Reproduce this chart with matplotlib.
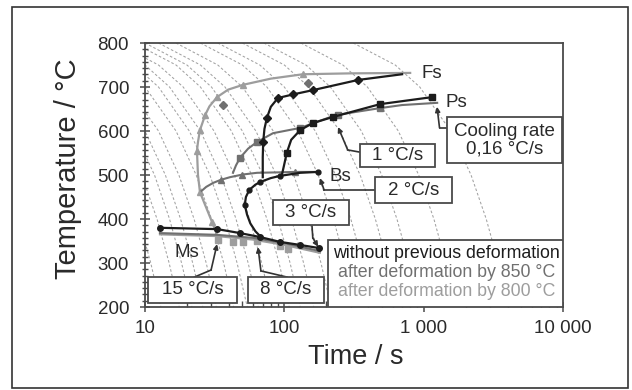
import matplotlib
matplotlib.use("Agg")
import matplotlib.pyplot as plt
from matplotlib.patches import Rectangle
from matplotlib.ticker import FixedLocator, NullFormatter, AutoMinorLocator

plt.rcParams['font.family'] = ['Liberation Sans', 'DejaVu Sans']

# -------------------- data --------------------
# dashed cooling curves: time (s) at which each curve passes these temperatures
dash_temps = [800, 750, 700, 600, 500, 400, 300, 200]
dash_times = [
    [1.0, 2.0, 3.0, 5.0, 7.0, 9.0, 11.0, 13.0],
    [1.35, 2.7, 4.05, 6.76, 9.46, 12.2, 14.9, 17.6],
    [1.67, 3.33, 5.0, 8.33, 11.7, 15.0, 18.3, 21.7],
    [2.0, 4.0, 6.0, 10.0, 14.0, 18.0, 22.0, 26.0],
    [2.5, 5.0, 7.5, 12.5, 17.5, 22.5, 27.5, 32.5],
    [3.33, 6.67, 10.0, 16.7, 23.3, 30.0, 36.7, 43.3],
    [4.17, 8.33, 12.5, 20.8, 29.2, 37.5, 45.8, 54.2],
    [5.0, 10.0, 15.0, 25.0, 35.0, 45.0, 55.0, 65.0],
    [6.25, 12.5, 18.8, 31.3, 43.8, 56.3, 68.8, 81.3],
    [8.33, 16.7, 25.0, 41.7, 58.3, 75.0, 91.7, 108.3],
    [10.0, 20.0, 30.0, 50.0, 70.0, 90.0, 110.0, 130.0],
    [12.5, 25.0, 37.5, 62.5, 87.5, 112.5, 137.5, 162.5],
    [16.7, 33.3, 50.0, 83.3, 116.7, 150.0, 183.3, 216.7],
    [25.0, 50.0, 75.0, 125.0, 175.0, 225.0, 275.0, 325.0],
    [33.3, 66.7, 100.0, 166.7, 233.3, 300.0, 366.7, 433.3],
    [50.0, 100.0, 150.0, 250.0, 350.0, 450.0, 550.0, 650.0],
    [71.4, 142.9, 214.3, 357.1, 500.0, 642.9, 785.7, 928.6],
    [131.6, 263.2, 394.7, 657.9, 921.1, 1184.0, 1447.0, 1711.0],
    [312.5, 625.0, 937.5, 1562.0, 2188.0, 2812.0, 3438.0, 4062.0],
]

# without previous deformation (black)
fs_blk_t = [70, 70, 70.5, 72, 75, 80, 90, 115, 161, 338, 700]
fs_blk_T = [495, 540, 575, 605, 630, 655, 675, 683, 693, 716, 729]
ps_blk_t = [96, 100, 104, 112, 130, 160, 224, 486, 1150]
ps_blk_T = [500, 525, 550, 580, 602, 618, 632, 661, 677]
bs_blk_t = [69, 62, 57, 54, 52, 53, 56, 62, 67, 80, 93, 130, 175]
bs_blk_T = [357, 372, 390, 410, 432, 450, 466, 478, 484, 493, 498, 505, 507]
ms_blk_t = [12.8, 33, 48, 67, 93, 130, 177]
ms_blk_T = [380, 377, 368, 359, 348, 341, 334]

# after deformation by 850 C (mid gray)
fs_850_t = [42.8, 45, 48.1, 55, 63.7, 82.9, 130, 224, 243, 486, 700, 1250]
fs_850_T = [505, 522, 539, 560, 575, 595, 607, 634, 637, 652, 659, 664]
bs_850_t = [25.5, 27.5, 30.8, 35, 40.7, 50, 63.7, 90, 120, 172]
bs_850_T = [464, 473, 482, 489, 495, 501, 505, 506, 507, 507]
ms_850_t = [12.8, 33, 60, 100, 180]
ms_850_T = [368, 364, 357, 345, 327]
pts_850_t = [148, 36]
pts_850_T = [709, 659]

# after deformation by 800 C (light gray)
fs_800_t = [800, 300, 136, 80, 50.6, 39.5, 32.9, 29, 27, 24.8, 24, 23.6, 24, 24.8, 27, 30.3, 32.9, 33.6]
fs_800_T = [732, 731, 729, 719, 705, 694, 677, 656, 636, 602, 575, 555, 500, 461, 432, 393, 364, 350]
ms_800_t = [12.8, 33, 60, 100, 180]
ms_800_T = [365, 361, 353, 341, 323]
msp_800_t = [33.4, 42.8, 50.6, 63.7, 93, 106]
msp_800_T = [352, 348, 348, 350, 338, 331]

x_ticks = [10, 100, 1000, 10000]
x_tick_labels = ['10', '100', '1 000', '10 000']
y_ticks = [200, 300, 400, 500, 600, 700, 800]

BLACK = '#1c1c1c'
MID = '#707070'
LIGHT = '#9d9d9d'
DASH = '#a2a2a2'
EDGE = '#4a4a4a'

fig = plt.figure(figsize=(6.32, 3.9), dpi=100)
ax = fig.add_axes([145 / 632, 1 - 307 / 390, 418 / 632, 264 / 390])
ax.set_xscale('log')
ax.set_xlim(10, 10000)
ax.set_ylim(200, 800)

# dashed cooling curves
for times in dash_times:
    ax.plot(times, dash_temps, color=DASH, lw=0.75, ls=(0, (2.5, 2)), zorder=1)

# transformation curves
ax.plot(fs_800_t, fs_800_T, color=LIGHT, lw=1.6, zorder=2,
        marker='^', ms=4.5, markevery=[2, 4, 6, 8, 9, 11, 13, 15])
ax.plot(ms_800_t, ms_800_T, color=LIGHT, lw=1.5, zorder=2)
ax.plot(msp_800_t, msp_800_T, ls='none', marker='s', ms=4, color=LIGHT, zorder=2)

ax.plot(fs_850_t, fs_850_T, color=MID, lw=1.5, zorder=2,
        marker='s', ms=3.8, markevery=[2, 4, 6, 8, 9])
ax.plot(bs_850_t, bs_850_T, color=MID, lw=1.5, zorder=2,
        marker='^', ms=4.5, markevery=[3, 5, 8])
ax.plot(ms_850_t, ms_850_T, color=MID, lw=1.5, zorder=2)
ax.plot(pts_850_t, pts_850_T, ls='none', marker='D', ms=4, color=MID, zorder=2)

ax.plot(fs_blk_t, fs_blk_T, color=BLACK, lw=1.6, zorder=3,
        marker='D', ms=4, markevery=[2, 4, 6, 7, 8, 9])
ax.plot(ps_blk_t, ps_blk_T, color=BLACK, lw=1.6, zorder=3,
        marker='s', ms=3.8, markevery=[2, 4, 5, 6, 7, 8])
ax.plot(bs_blk_t, bs_blk_T, color=BLACK, lw=1.6, zorder=3,
        marker='o', ms=3.5, markevery=[4, 6, 8, 10, 12])
ax.plot(ms_blk_t, ms_blk_T, color=BLACK, lw=1.6, zorder=3,
        marker='o', ms=4)

# axes styling
for sp in ax.spines.values():
    sp.set_color(EDGE)
    sp.set_linewidth(1.3)
ax.xaxis.set_major_locator(FixedLocator(x_ticks))
ax.set_xticklabels(x_tick_labels)
ax.xaxis.set_minor_formatter(NullFormatter())
ax.set_yticks(y_ticks)
ax.yaxis.set_minor_locator(AutoMinorLocator(7))
ax.tick_params(axis='x', which='major', direction='inout', length=7, width=1.1,
               color=EDGE, labelsize=13.5, labelcolor='#2a2a2a', pad=6)
ax.tick_params(axis='x', which='minor', direction='in', length=4, width=1.0, color=EDGE)
ax.tick_params(axis='y', which='major', direction='inout', length=7, width=1.1,
               color=EDGE, labelsize=13.5, labelcolor='#2a2a2a', pad=8)
ax.tick_params(axis='y', which='minor', direction='inout', length=4, width=1.0, color=EDGE)

fig.text(68 / 632, 1 - 169 / 390, 'Temperature / °C', rotation=90,
         ha='center', va='center', fontsize=21, color='#2a2a2a')
fig.text(356 / 632, 1 - 357 / 390, 'Time / s', ha='center', va='center',
         fontsize=19.5, color='#2a2a2a')

# phase labels
for lab, px, py in [('Fs', 0.687, 0.883), ('Ps', 0.744, 0.773),
                    ('Bs', 0.467, 0.496), ('Ms', 0.100, 0.208)]:
    ax.text(px, py, lab, transform=ax.transAxes, ha='center', va='center',
            fontsize=13.5, color='#2a2a2a', zorder=6)

# boxed cooling-rate labels: (text, x0, x1, y0, y1) in axes fraction
boxes = [
    ('15 °C/s', 0.007, 0.220, 0.015, 0.114),
    ('8 °C/s', 0.246, 0.428, 0.015, 0.114),
    ('3 °C/s', 0.306, 0.488, 0.311, 0.405),
    ('2 °C/s', 0.550, 0.734, 0.394, 0.492),
    ('1 °C/s', 0.514, 0.694, 0.530, 0.617),
    ('Cooling rate\n0,16 °C/s', 0.722, 0.998, 0.545, 0.720),
]
for txt, x0, x1, y0, y1 in boxes:
    ax.add_patch(Rectangle((x0, y0), x1 - x0, y1 - y0, transform=ax.transAxes,
                           facecolor='white', edgecolor=EDGE, lw=1.3,
                           zorder=7, clip_on=False))
    ax.text((x0 + x1) / 2, (y0 + y1) / 2, txt, transform=ax.transAxes,
            ha='center', va='center', fontsize=13.5, color='#2a2a2a',
            linespacing=1.05, zorder=8)

# leader lines: start at box, bend, arrow tip (data coords)
leaders = [
    ((22.6, 268), (29.8, 284), (32.9, 343)),
    ((104.5, 268), (67.9, 282), (64.7, 336)),
    ((158, 384), (160, 357), (175, 337)),
    ((445, 466), (193, 466), (180, 493)),
    ((348, 552), (285, 557), (243, 609)),
    ((1466, 607), (1300, 607), (1247, 655)),
]
for start, bend, tip in leaders:
    ax.plot([start[0], bend[0]], [start[1], bend[1]], color='#333333', lw=1.2, zorder=6)
    ax.annotate('', xy=tip, xytext=bend,
                arrowprops=dict(arrowstyle='-|>', color='#333333', lw=1.2,
                                mutation_scale=7, shrinkA=0, shrinkB=0),
                zorder=6)

# legend box
ax.add_patch(Rectangle((0.438, 0.0), 0.562, 0.254, transform=ax.transAxes,
                       facecolor='white', edgecolor=EDGE, lw=1.3, zorder=7))
legend_lines = [('without previous deformation', BLACK, 0.201),
                ('after deformation by 850 °C', MID, 0.129),
                ('after deformation by 800 °C', LIGHT, 0.057)]
for txt, col, yy in legend_lines:
    ax.text(0.721, yy, txt, transform=ax.transAxes, ha='center', va='center',
            fontsize=12.8, color=col, zorder=8)

# outer frame of the figure
fig.add_artist(Rectangle((12 / 632, 2 / 390), 616 / 632, 381 / 390,
                         transform=fig.transFigure, fill=False,
                         edgecolor='#333333', lw=1.2))

fig.savefig('out.png', dpi=100)
